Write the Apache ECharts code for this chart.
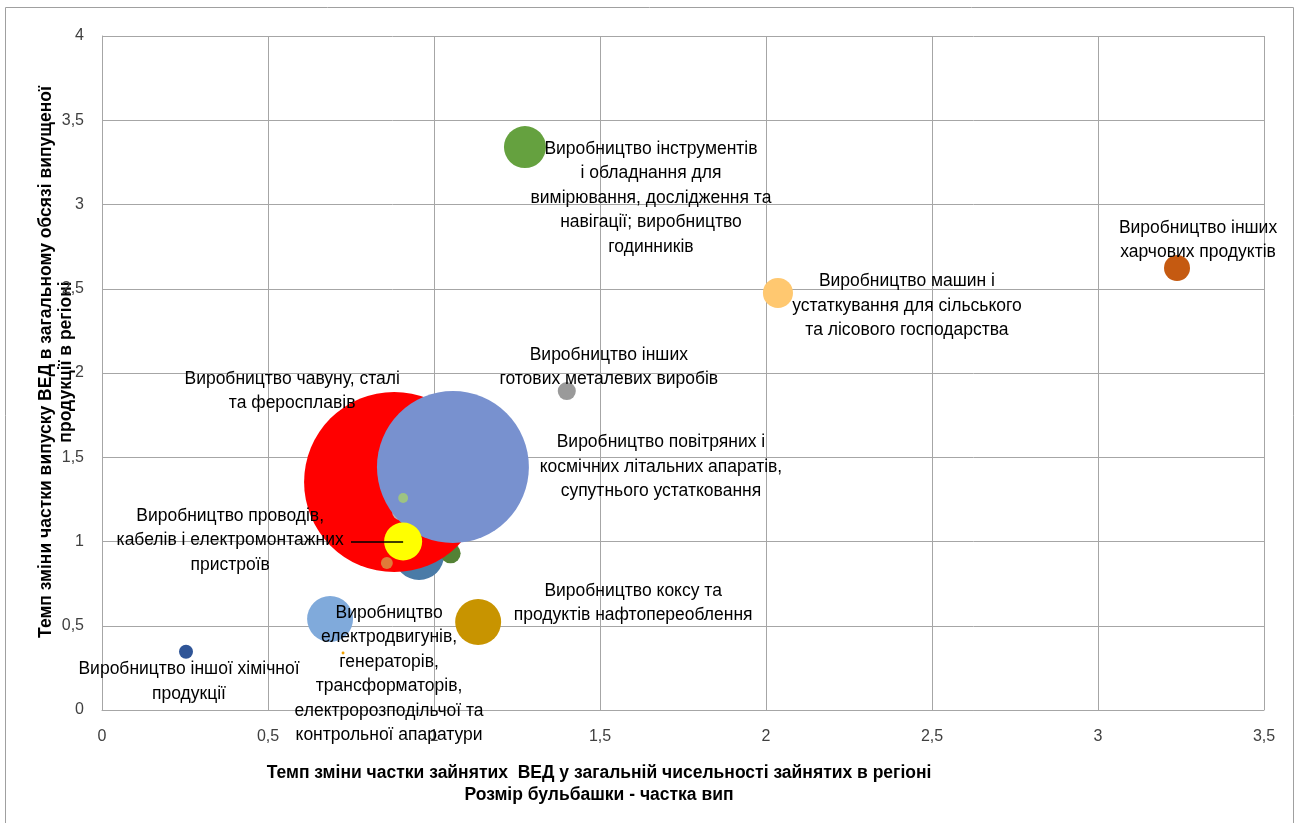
<!DOCTYPE html>
<html><head><meta charset="utf-8">
<script src="https://cdn.jsdelivr.net/npm/echarts@6/dist/echarts.min.js"></script>
<style>html,body{margin:0;padding:0;background:#fff}#c{width:1297px;height:823px}</style>
</head><body><div id="c"></div>
<script>
// Data
const names = [
  'Виробництво (інше)', 'Виробництво (інше 2)', 'Виробництво чавуну, сталі\nта феросплавів', 'Виробництво (сіре)',
  'Виробництво повітряних і\nкосмічних літальних апаратів,\nсупутнього устатковання',
  'Виробництво проводів,\nкабелів і електромонтажних\nпристроїв', 'Виробництво (світло-зелене)', 'Виробництво (помаранчеве)',
  'Виробництво інструментів\nі обладнання для\nвимірювання, дослідження та\nнавігації; виробництво\nгодинників',
  'Виробництво машин і\nустаткування для сільського\nта лісового господарства',
  'Виробництво інших\nхарчових продуктів',
  'Виробництво інших\nготових металевих виробів',
  'Виробництво\nелектродвигунів,\nгенераторів,\nтрансформаторів,\nелектророзподільчої та\nконтрольної апаратури',
  'Виробництво коксу та\nпродуктів нафтопереоблення',
  'Виробництво іншої хімічної\nпродукції',
  'Виробництво (мала)'
];
const xVals = [0.955, 1.05, 0.88, 0.898, 1.057, 0.907, 0.907, 0.858, 1.274, 2.036, 3.238, 1.40, 0.687, 1.133, 0.253, 0.726];
const yVals = [0.92, 0.93, 1.353, 1.175, 1.442, 1.00, 1.258, 0.872, 3.341, 2.475, 2.623, 1.893, 0.540, 0.522, 0.346, 0.338];
const sizeVals = [2.3, 0.37, 29.8, 0.235, 21.2, 1.33, 0.09, 0.13, 1.62, 0.83, 0.62, 0.30, 1.94, 1.94, 0.18, 0.008]; // частка вип, %
const showLabel = [false, false, true, false, true, true, false, false, true, true, true, true, true, true, true, false];
const xTicks = ['0', '0,5', '1', '1,5', '2', '2,5', '3', '3,5'];
const yTicks = ['0', '0,5', '1', '1,5', '2', '2,5', '3', '3,5', '4'];
const xTitle = 'Темп зміни частки зайнятих  ВЕД у загальній чисельності зайнятих в регіоні\nРозмір бульбашки - частка вип';
const yTitle = 'Темп зміни частки випуску ВЕД в загальному обсязі випущеної\nпродукції в регіоні';

// Styles
const colors = ['#4a7ba7', '#548235', '#ff0000', '#b4b4b4', '#7891cf', '#ffff00', '#9dc383', '#e07b39',
  '#65a13f', '#ffc870', '#c55a11', '#9a9a9a', '#80aadb', '#c89400', '#2f5597', '#f0a000'];
const labelOffsets = [[0,0],[0,0],[-102,-91],[0,0],[208,0],[-173,-1],[0,0],[0,0],[126,51],[129,13],[21,-28],[42,-24],[59,55],[155,-19],[3,30],[0,0]];
const WIRES = 5;

const FONT = "'Liberation Sans Narrow', 'Arial Narrow', 'Liberation Sans', Arial, sans-serif";
const data = names.map((n, i) => ({
  name: n,
  value: [xVals[i], yVals[i], sizeVals[i]],
  itemStyle: { color: colors[i], opacity: 1 },
  label: { show: showLabel[i], offset: labelOffsets[i] }
}));

const chart = echarts.init(document.getElementById('c'));
chart.setOption({
  animation: false,
  grid: { left: 102, right: 33, top: 36, bottom: 113 },
  xAxis: {
    type: 'value', min: 0, max: 3.5, interval: 0.5,
    axisLine: { show: true, lineStyle: { color: '#a6a6a6' } },
    axisTick: { show: false },
    splitLine: { show: true, lineStyle: { color: '#a6a6a6', width: 1 } },
    axisLabel: { color: '#404040', fontSize: 16, fontFamily: 'Liberation Sans', margin: 19,
      formatter: v => xTicks[Math.round(v / 0.5)] }
  },
  yAxis: {
    type: 'value', min: 0, max: 4, interval: 0.5,
    axisLine: { show: true, lineStyle: { color: '#a6a6a6' } },
    axisTick: { show: false },
    splitLine: { show: true, lineStyle: { color: '#a6a6a6', width: 1 } },
    axisLabel: { color: '#404040', fontSize: 16, fontFamily: 'Liberation Sans', margin: 18,
      formatter: v => yTicks[Math.round(v / 0.5)] }
  },
  series: [{
    type: 'scatter',
    data: data,
    symbolSize: v => 33 * Math.sqrt(v[2]),
    label: {
      position: 'inside', formatter: p => p.name, color: '#000',
      fontFamily: FONT, fontSize: 17.5, lineHeight: 24.5, align: 'center'
    },
    emphasis: { disabled: true },
    markLine: {
      silent: true, symbol: 'none', label: { show: false },
      lineStyle: { color: '#000', type: 'solid', width: 1.5 },
      data: [[{ coord: [xVals[WIRES] - 0.157, yVals[WIRES]] }, { coord: [xVals[WIRES], yVals[WIRES]] }]]
    }
  }],
  graphic: [
    { type: 'rect', shape: { x: 5.5, y: 7.5, width: 1288, height: 830 }, style: { fill: 'none', stroke: '#a0a0a0', lineWidth: 1 }, silent: true, z: -1 },
    { type: 'text', x: 599, y: 784, silent: true,
      style: { text: xTitle, font: "bold 17.5px " + FONT, fill: '#000', textAlign: 'center', textVerticalAlign: 'middle', lineHeight: 22, align: 'center', verticalAlign: 'middle' } },
    { type: 'text', x: 56, y: 362, rotation: Math.PI / 2, silent: true,
      style: { text: yTitle, font: "bold 17.5px " + FONT, fill: '#000', textAlign: 'center', textVerticalAlign: 'middle', lineHeight: 20, align: 'center', verticalAlign: 'middle' } }
  ]
});
</script></body></html>
